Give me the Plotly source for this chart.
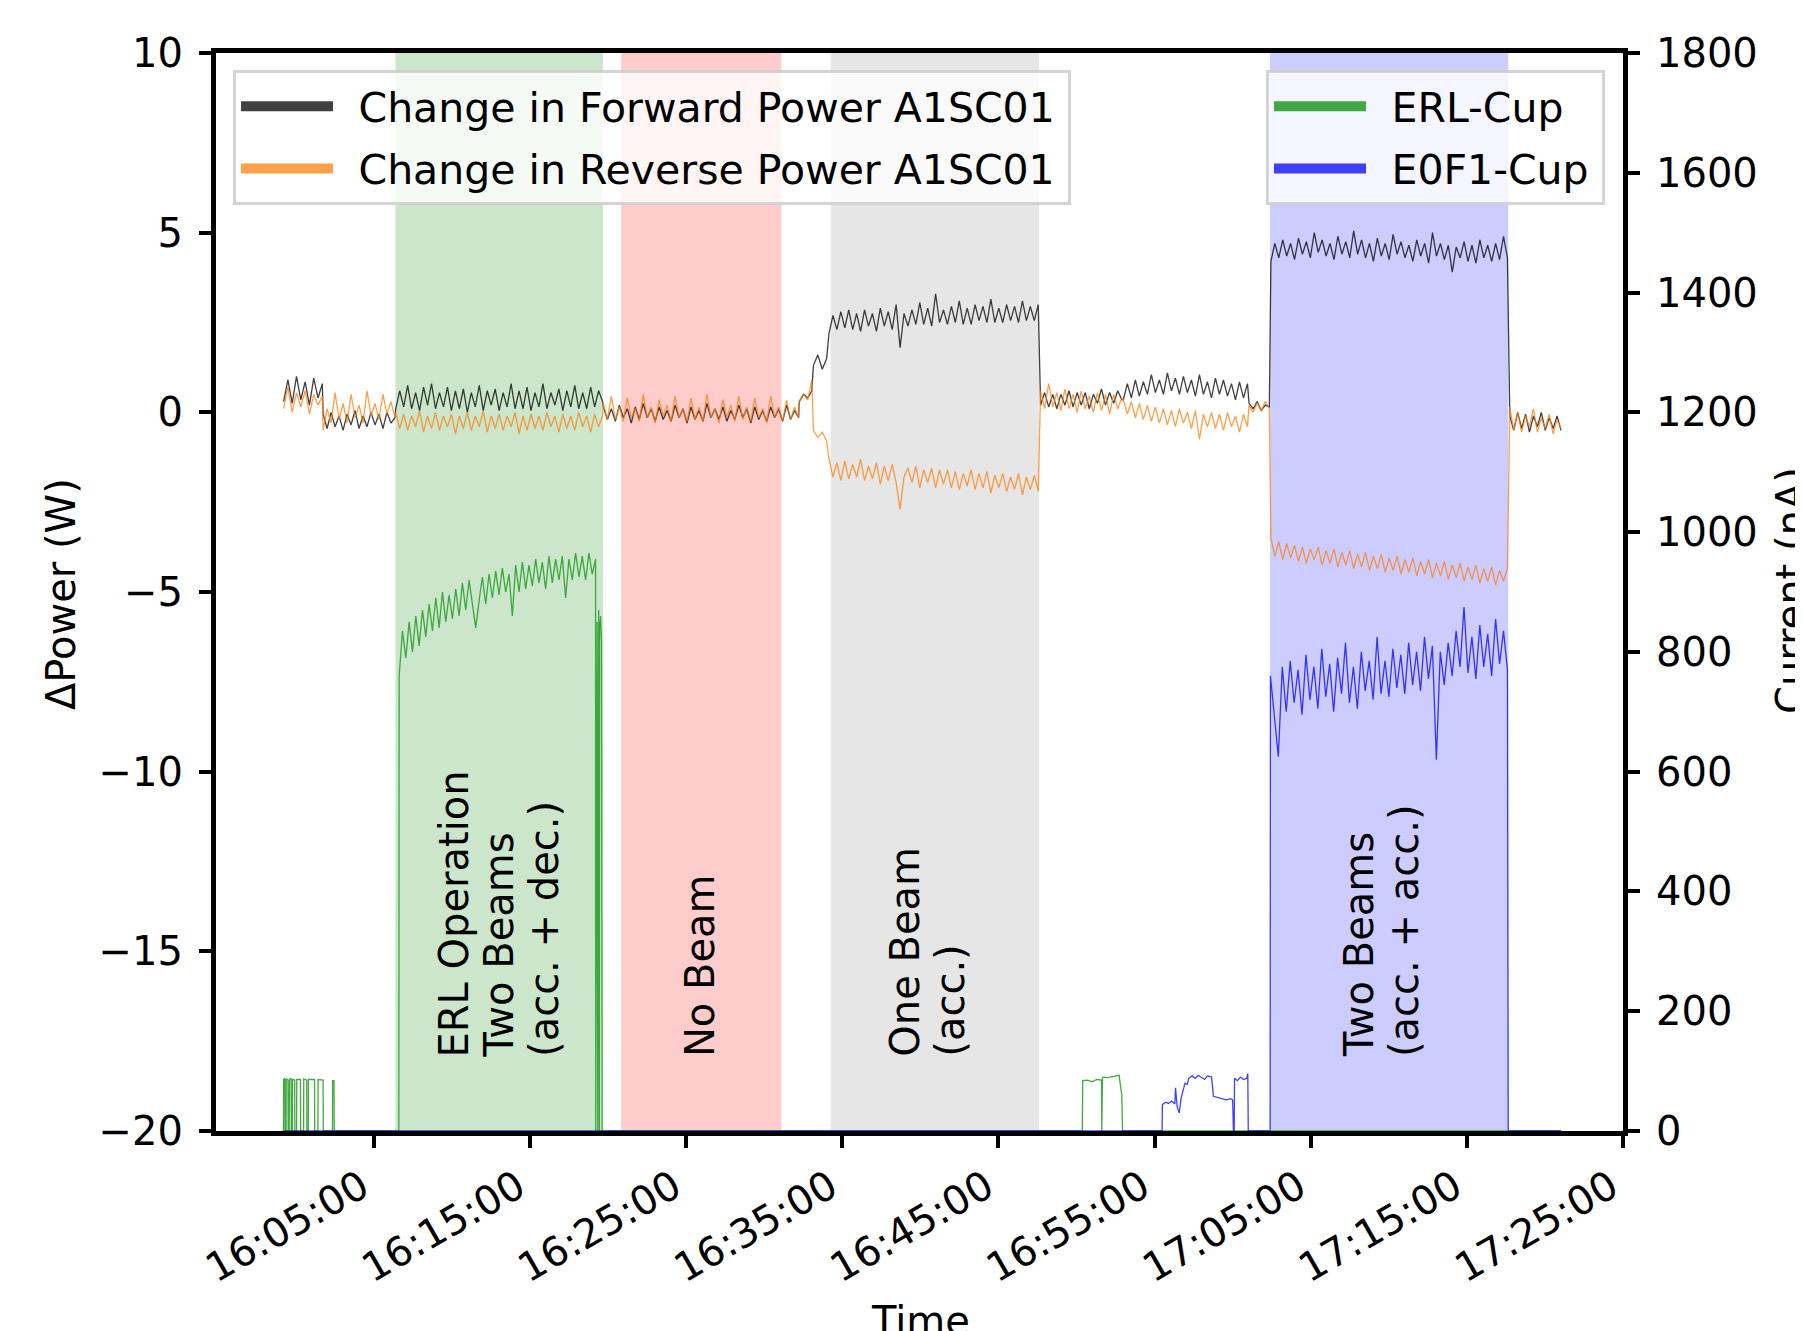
import numpy as np
import pandas as pd
import plotly.graph_objects as go

BASE = pd.Timestamp("2019-01-01 16:00:00")

# ---------------- data (time in minutes after 16:00) ----------------
seg_bounds = [(-0.78, 1.70), (1.75, 6.35), (6.40, 19.65), (19.70, 32.20),
              (32.25, 33.05), (33.15, 34.00), (34.15, 47.55), (47.70, 52.90),
              (53.00, 60.95), (61.05, 62.35), (62.45, 77.60), (77.75, 81.03)]

fwd_segs = [
    [0.3, 0.9, 0.25, 1.0, 0.35, 0.85, 0.2, 0.95, 0.4, 0.8],
    [-0.05, -0.45, 0.0, -0.4, -0.1, -0.5, -0.05, -0.35, 0.05, -0.45, -0.1, -0.4, 0.0, -0.35, -0.05, -0.45, 0.0, -0.3, -0.15],
    [0.1, 0.6, 0.15, 0.75, 0.1, 0.55, 0.05, 0.7, 0.2, 0.8, 0.1, 0.55, 0.15, 0.7, 0.05, 0.6, 0.1, 0.65, 0.0, 0.55,
     0.15, 0.75, 0.05, 0.6, 0.2, 0.65, 0.05, 0.55, 0.15, 0.8, 0.1, 0.6, 0.1, 0.7, 0.05, 0.55, 0.15, 0.8, 0.1, 0.55,
     0.2, 0.65, 0.05, 0.6, 0.15, 0.75, 0.1, 0.55, 0.1, 0.7, 0.15, 0.6, 0.3],
    [0.15, -0.2, 0.1, -0.25, 0.2, -0.15, 0.1, -0.3, 0.15, -0.2, 0.25, -0.15, 0.1, -0.25, 0.15, -0.2, 0.05, -0.25, 0.2, -0.15,
     0.1, -0.3, 0.15, -0.2, 0.05, -0.25, 0.25, -0.15, 0.1, -0.2, 0.15, -0.25, 0.05, -0.2, 0.2, -0.15, 0.1, -0.3, 0.15, -0.2,
     0.05, -0.25, 0.15, -0.15, 0.1, -0.25, 0.2, -0.2, 0.05, -0.15],
    [0.3, 0.5, 0.4, 0.6],
    [1.3, 1.6, 1.2, 1.5],
    [2.2, 2.7, 2.3, 2.8, 2.35, 2.85, 2.3, 2.75, 2.25, 2.85, 2.4, 2.75, 2.25, 2.9, 2.4, 2.8, 2.3, 3.0, 1.8, 2.75,
     2.4, 2.85, 2.45, 3.05, 2.45, 2.9, 2.4, 3.3, 2.5, 2.85, 2.45, 2.95, 2.5, 3.1, 2.45, 2.9, 2.45, 3.0, 2.55, 2.95,
     2.5, 3.15, 2.5, 2.9, 2.5, 3.0, 2.55, 2.95, 2.5, 3.1, 2.55, 2.95, 2.55, 3.0],
    [0.2, 0.55, 0.15, 0.5, 0.1, 0.5, 0.2, 0.6, 0.15, 0.55, 0.2, 0.55, 0.1, 0.5, 0.25, 0.65, 0.2, 0.55, 0.25, 0.6, 0.35],
    [0.35, 0.8, 0.4, 0.9, 0.45, 0.85, 0.5, 1.05, 0.55, 0.9, 0.5, 1.1, 0.6, 0.95, 0.5, 1.0, 0.55, 0.9, 0.45, 1.05,
     0.5, 0.85, 0.4, 0.95, 0.5, 0.9, 0.45, 0.8, 0.35, 0.85, 0.4, 0.8],
    [0.25, 0.1, 0.3, 0.05, 0.2, 0.15],
    [4.2, 4.7, 4.3, 4.8, 4.35, 4.7, 4.25, 4.85, 4.4, 4.75, 4.3, 5.0, 4.45, 4.8, 4.35, 4.7, 4.25, 4.9, 4.4, 4.75,
     4.3, 5.05, 4.4, 4.8, 4.3, 4.7, 4.2, 4.85, 4.35, 4.7, 4.25, 4.95, 4.4, 4.75, 4.3, 4.65, 4.2, 4.8, 4.35, 4.7,
     4.15, 5.0, 4.35, 4.7, 4.25, 4.65, 3.9, 4.6, 4.3, 4.75, 4.2, 4.65, 4.15, 4.8, 4.3, 4.65, 4.2, 4.7, 4.25, 4.9, 4.3],
    [-0.1, -0.5, 0.0, -0.45, -0.05, -0.55, -0.1, -0.4, 0.0, -0.5, -0.15, -0.45, -0.1, -0.5],
]

rev_segs = [
    [0.1, 0.7, 0.0, 0.55, 0.15, 0.6, -0.05, 0.5, 0.2, 0.45],
    [-0.5, 0.1, -0.3, 0.55, -0.2, 0.25, -0.3, 0.5, -0.15, 0.2, -0.3, 0.6, -0.1, 0.25, -0.2, 0.5, -0.05, 0.3, -0.15],
    [0.0, -0.45, -0.05, -0.5, -0.1, -0.4, 0.05, -0.55, -0.1, -0.45, 0.0, -0.5, -0.1, -0.4, -0.05, -0.6, -0.1, -0.45, 0.0, -0.5,
     -0.1, -0.4, 0.05, -0.55, -0.1, -0.45, -0.05, -0.5, -0.1, -0.4, 0.0, -0.6, -0.1, -0.5, -0.05, -0.45, -0.1, -0.5, 0.0, -0.4,
     -0.1, -0.55, -0.05, -0.45, -0.1, -0.5, 0.0, -0.4, -0.1, -0.55, -0.05, -0.4, -0.1],
    [0.25, -0.2, 0.45, -0.2, 0.15, -0.25, 0.4, -0.15, 0.1, -0.25, 0.5, -0.15, 0.15, -0.3, 0.35, -0.1, 0.2, -0.25, 0.45, -0.15,
     0.1, -0.25, 0.4, -0.2, 0.15, -0.25, 0.5, -0.15, 0.1, -0.3, 0.35, -0.15, 0.2, -0.25, 0.45, -0.2, 0.15, -0.25, 0.4, -0.15,
     0.1, -0.3, 0.45, -0.15, 0.15, -0.25, 0.35, -0.2, 0.15, -0.15],
    [0.3, 0.5, 0.35, 0.9],
    [-0.5, -0.7, -0.55, -0.8],
    [-1.3, -1.8, -1.4, -1.9, -1.35, -1.85, -1.45, -1.8, -1.3, -1.9, -1.5, -1.85, -1.4, -2.0, -1.5, -1.9, -1.45, -1.95, -2.7, -1.8,
     -1.55, -1.95, -1.5, -2.1, -1.6, -1.95, -1.55, -2.1, -1.6, -2.0, -1.6, -2.1, -1.65, -2.15, -1.7, -2.05, -1.6, -2.15, -1.7, -2.1,
     -1.65, -2.25, -1.75, -2.1, -1.7, -2.2, -1.8, -2.15, -1.7, -2.3, -1.8, -2.15, -1.75, -2.2],
    [0.6, 0.1, 0.8, 0.15, 0.55, 0.05, 0.65, 0.1, 0.5, 0.0, 0.6, 0.1, 0.45, 0.0, 0.55, 0.05, 0.5, -0.05, 0.5, 0.1, 0.4],
    [0.35, -0.05, 0.3, -0.15, 0.25, -0.2, 0.2, -0.25, 0.15, -0.3, 0.1, -0.35, 0.05, -0.4, 0.1, -0.3, 0.0, -0.45, 0.05, -0.75,
     -0.05, -0.4, 0.0, -0.45, -0.05, -0.5, 0.0, -0.4, -0.1, -0.55, -0.05, -0.4],
    [0.2, 0.0, 0.25, 0.05, 0.3, 0.1],
    [-3.5, -4.0, -3.6, -4.1, -3.65, -4.05, -3.7, -4.15, -3.75, -4.2, -3.8, -4.1, -3.75, -4.25, -3.85, -4.2, -3.8, -4.3, -3.9, -4.25,
     -3.85, -4.35, -3.95, -4.3, -3.9, -4.4, -4.0, -4.35, -3.95, -4.45, -4.05, -4.4, -4.0, -4.5, -4.1, -4.45, -4.05, -4.55, -4.15, -4.5,
     -4.1, -4.6, -4.2, -4.55, -4.15, -4.65, -4.25, -4.6, -4.2, -4.7, -4.3, -4.65, -4.25, -4.75, -4.35, -4.7, -4.3, -4.8, -4.4, -4.7, -4.35],
    [0.15, -0.5, 0.0, -0.55, -0.1, -0.4, 0.1, -0.55, -0.15, -0.45, -0.05, -0.6, -0.2, -0.45],
]

# ERL-Cup (nA)
erl_early_t = [-0.79, -0.78, -0.70, -0.69, -0.62, -0.61, -0.50, -0.49, -0.42, -0.41, -0.30, -0.29, -0.22, -0.21,
               -0.07, -0.06, 0.05, 0.06, 0.30, 0.31, 0.50, 0.51, 0.70, 0.71, 0.80, 0.81, 1.20, 1.21, 1.42, 1.43,
               1.75, 1.76, 2.35, 2.36, 2.45, 2.46, 6.60]
erl_early_v = [0, 86, 88, 0, 0, 87, 85, 0, 0, 86, 88, 0, 0, 86, 85, 0, 0, 86, 86, 0, 0, 87, 85, 0, 0, 86, 86, 0,
               0, 86, 85, 0, 0, 84, 84, 0, 0]
erl_main_span = (6.62, 19.20)
erl_main_v = [760, 835, 790, 850, 800, 860, 810, 870, 825, 880, 835, 890, 840, 900, 850, 895, 855, 905, 860, 915,
              870, 920, 875, 840, 885, 925, 880, 930, 890, 935, 895, 940, 900, 930, 860, 945, 900, 950, 905, 945,
              910, 955, 915, 950, 905, 960, 915, 955, 920, 960, 890, 955, 920, 965, 925, 960, 920, 965, 930, 955]
erl_late_t = [19.21, 19.30, 19.34, 19.36, 19.40, 19.44, 19.46, 19.52, 19.58, 19.62,
              50.37, 50.40, 50.70, 51.00, 51.30, 51.60, 51.62, 51.66, 51.70, 52.00, 52.30, 52.60, 52.73, 52.90, 52.95, 81.03]
erl_late_v = [0, 850, 0, 830, 870, 0, 840, 860, 820, 0,
              0, 84, 85, 82, 86, 85, 0, 88, 90, 89, 91, 92, 93, 60, 0, 0]

# E0F1-Cup (nA)
e0f1_early_t = [-0.79, 55.48, 55.50, 55.70, 55.90, 56.10, 56.30, 56.34, 56.45, 56.58, 56.70, 56.95, 57.10, 57.19,
                57.40, 57.60, 57.80, 58.00, 58.20, 58.40, 58.65, 58.77, 59.00, 59.30, 59.60, 59.87, 60.00,
                60.05, 60.10, 60.12, 60.30, 60.50, 60.70, 60.90, 60.97, 61.00, 62.40]
e0f1_early_v = [0, 0, 44, 48, 46, 50, 45, 72, 40, 30, 55, 80, 78, 88, 92, 88, 93, 90, 86, 92, 90, 58, 56, 54,
                52, 54, 52, 0, 0, 88, 84, 90, 86, 88, 96, 0, 0]
e0f1_main_span = (62.42, 77.60)
e0f1_main_v = [760, 690, 625, 775, 700, 785, 715, 770, 695, 795, 720, 775, 705, 805, 725, 780, 700, 790, 730, 815,
               715, 775, 705, 800, 735, 785, 720, 825, 730, 785, 725, 805, 740, 795, 730, 815, 745, 800, 735, 825,
               755, 810, 620, 800, 745, 815, 760, 835, 775, 875, 765, 825, 755, 845, 775, 830, 760, 855, 780, 835, 770]
e0f1_late_t = [77.65, 81.03]
e0f1_late_v = [0, 0]

# Shaded operating periods (minutes after 16:00)
span_start = [6.38, 20.84, 34.25, 62.40]
span_end = [19.67, 31.10, 47.60, 77.65]
span_color = ["rgba(0,128,0,0.2)", "rgba(255,0,0,0.2)", "rgba(128,128,128,0.2)", "rgba(0,0,255,0.2)"]

# Region labels
label_lines = [["ERL Operation", "Two Beams", "(acc. + dec.)"], ["No Beam"],
               ["One Beam", "(acc.)"], ["Two Beams", "(acc. + acc.)"]]
label_t = [8.97, 24.70, 37.90, 66.90]
label_y = -18

# Axis ticks
x_tick_min = [5, 15, 25, 35, 45, 55, 65, 75, 85]
x_tick_text = ["16:05:00", "16:15:00", "16:25:00", "16:35:00", "16:45:00",
               "16:55:00", "17:05:00", "17:15:00", "17:25:00"]
y1_ticks = [10, 5, 0, -5, -10, -15, -20]
y1_text = ["10", "5", "0", "\u22125", "\u221210", "\u221215", "\u221220"]
y2_ticks = [0, 200, 400, 600, 800, 1000, 1200, 1400, 1600, 1800]
x_range_min = (-5.11, 85.0)


def tm(m):
    return BASE + pd.to_timedelta(np.asarray(m, dtype=float), unit="m")


def build(segs):
    t, v = [], []
    for (a, b), vals in zip(seg_bounds, segs):
        t.extend(np.linspace(a, b, len(vals)))
        v.extend(vals)
    return tm(t), v


fwd_t, fwd_v = build(fwd_segs)
rev_t, rev_v = build(rev_segs)

erl_t = list(erl_early_t) + list(np.linspace(*erl_main_span, len(erl_main_v))) + list(erl_late_t)
erl_v = list(erl_early_v) + list(erl_main_v) + list(erl_late_v)
e0_t = list(e0f1_early_t) + list(np.linspace(*e0f1_main_span, len(e0f1_main_v))) + list(e0f1_late_t)
e0_v = list(e0f1_early_v) + list(e0f1_main_v) + list(e0f1_late_v)

FONT = "DejaVu Sans"
FS = 40
C_FWD = "rgba(0,0,0,0.75)"
C_REV = "rgba(255,127,14,0.75)"
C_ERL = "rgba(44,160,44,0.9)"
C_E0 = "rgba(0,0,255,0.75)"

fig = go.Figure()
fig.add_trace(go.Scatter(x=fwd_t, y=fwd_v, mode="lines", line=dict(color=C_FWD, width=1.3),
                         showlegend=False, hoverinfo="skip"))
fig.add_trace(go.Scatter(x=rev_t, y=rev_v, mode="lines", line=dict(color=C_REV, width=1.3),
                         showlegend=False, hoverinfo="skip"))
fig.add_trace(go.Scatter(x=tm(erl_t), y=erl_v, mode="lines", line=dict(color=C_ERL, width=1.3),
                         yaxis="y2", showlegend=False, hoverinfo="skip"))
fig.add_trace(go.Scatter(x=tm(e0_t), y=e0_v, mode="lines", line=dict(color=C_E0, width=1.3),
                         yaxis="y2", showlegend=False, hoverinfo="skip"))

# legend entries
for i, (name, col, lg) in enumerate([("Change in Forward Power A1SC01", C_FWD, "legend"),
                                     ("Change in Reverse Power A1SC01", C_REV, "legend"),
                                     ("ERL-Cup", C_ERL, "legend2"),
                                     ("E0F1-Cup", C_E0, "legend2")]):
    fig.add_trace(go.Scatter(x=[None], y=[None], mode="lines", name="\u2002" + name + "\u2009",
                             line=dict(color=col, width=10), legend=lg, legendgroup="g%d" % i,
                             yaxis="y2" if lg == "legend2" else "y"))

for a, b, c in zip(span_start, span_end, span_color):
    fig.add_shape(type="rect", xref="x", yref="paper", x0=tm([a])[0], x1=tm([b])[0], y0=0, y1=1,
                  fillcolor=c, line=dict(width=0), layer="below")

for lines, t in zip(label_lines, label_t):
    for i, txt in enumerate(lines):
        fig.add_annotation(x=tm([t])[0], y=label_y, xref="x", yref="y", text=txt, textangle=-90,
                           xanchor="left", yanchor="bottom", showarrow=False, xshift=i * 45 - 7,
                           font=dict(family=FONT, size=FS, color="black"))

# figure geometry (page is offset by the 8px body margin)
W, H = 1795, 1323
L, R, T, B = 208, 180, 45, 200
pw, ph = W - L - R, H - T - B


def px(x):
    return (x - L) / pw


def py(y):
    return (H - B - y) / ph


fig.add_annotation(x=px(53), y=py(586), xref="paper", yref="paper", text="\u0394Power (W)", textangle=-90,
                   showarrow=False, xanchor="center", yanchor="middle", font=dict(family=FONT, size=FS, color="black"))
fig.add_annotation(x=px(1783), y=py(582), xref="paper", yref="paper", text="Current (nA)", textangle=-90,
                   showarrow=False, xanchor="center", yanchor="middle", font=dict(family=FONT, size=FS, color="black"))
fig.add_annotation(x=px(912), y=py(1313), xref="paper", yref="paper", text="Time",
                   showarrow=False, xanchor="center", yanchor="middle", font=dict(family=FONT, size=FS, color="black"))

axis_common = dict(showline=True, linecolor="black", linewidth=5, ticks="outside", ticklen=12, tickwidth=3.5,
                   tickcolor="black", showgrid=False, zeroline=False,
                   tickfont=dict(family=FONT, size=FS, color="black"))

leg_common = dict(xanchor="left", yanchor="top", bgcolor="rgba(255,255,255,0.8)",
                  bordercolor="rgba(204,204,204,0.85)", borderwidth=3, itemwidth=92,
                  font=dict(family=FONT, size=41, color="black"), tracegroupgap=6, traceorder="grouped")

fig.update_layout(
    width=W, height=H,
    margin=dict(l=L, r=R, t=T, b=B, pad=0),
    plot_bgcolor="white", paper_bgcolor="white",
    font=dict(family=FONT, size=FS, color="black"),
    xaxis=dict(range=[tm([x_range_min[0]])[0], tm([x_range_min[1]])[0]], tickvals=tm(x_tick_min),
               ticktext=x_tick_text, tickangle=-30, mirror=True, ticklabelshift=-12, **axis_common),
    yaxis=dict(range=[-20, 10], tickvals=y1_ticks, ticktext=y1_text, ticklabelstandoff=8, **axis_common),
    yaxis2=dict(range=[0, 1800], tickvals=y2_ticks, overlaying="y", side="right", ticklabelstandoff=8,
                **axis_common),
    legend=dict(x=px(225), y=py(62), **leg_common),
    legend2=dict(x=px(1258), y=py(62), **leg_common),
)

fig.write_html("out.html")
